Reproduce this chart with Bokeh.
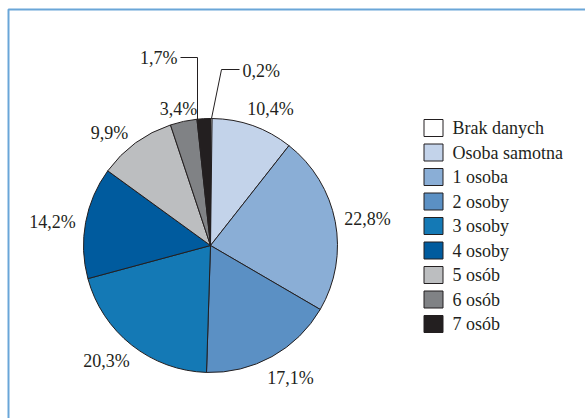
import math
from bokeh.plotting import figure
from bokeh.models import Range1d, ColumnDataSource
from bokeh.core.properties import value
from bokeh.embed import file_html
from bokeh.resources import INLINE

# ---- data ----
categories = ["Brak danych", "Osoba samotna", "1 osoba", "2 osoby", "3 osoby",
              "4 osoby", "5 osób", "6 osób", "7 osób"]
shares = [0.2, 10.4, 22.8, 17.1, 20.3, 14.2, 9.9, 3.4, 1.7]
colors = ["#ffffff", "#c3d3ea", "#8aaed6", "#5b90c4", "#1479b5",
          "#005b9e", "#bcbec0", "#808285", "#231f20"]

# ---- layout (screen pixels, y measured from top) ----
W, H = 585, 418
CX, CY, R = 210, 245, 127
FONT = value("serif")
FS = "18px"

def sy(y):
    return H - y

p = figure(width=W, height=H, output_backend="svg", toolbar_location=None,
           x_range=Range1d(0, W), y_range=Range1d(0, H), min_border=0)
p.axis.visible = False
p.grid.visible = False
p.outline_line_color = None
p.background_fill_color = "white"
p.border_fill_color = "white"

# frame
p.line(x=[8, 8, W + 5], y=[-5, sy(9), sy(9)], line_color="#6aa6d8", line_width=2)

# wedges (clockwise from 12 o'clock)
total = sum(shares)
starts, ends, cum = [], [], 0.0
for v in shares:
    a0 = math.pi / 2 - 2 * math.pi * cum / total
    cum += v
    a1 = math.pi / 2 - 2 * math.pi * cum / total
    starts.append(a1)
    ends.append(a0)
src = ColumnDataSource(dict(start=starts, end=ends, color=colors, cat=categories))
p.wedge(x=CX, y=sy(CY), radius=R, start_angle="start", end_angle="end",
        fill_color="color", line_color="#231f20", line_width=1, source=src)

# percentage labels
labels = [f"{v:.1f}".replace(".", ",") + "%" for v in shares]
label_pos = [(242, 70, "left"), (270, 108.5, "center"), (367, 218, "center"),
             (290, 377, "center"), (106, 360, "center"), (52, 221, "center"),
             (109, 132, "center"), (178, 108.5, "center"), (177, 57, "right")]
for txt, (lx, ly, al) in zip(labels, label_pos):
    p.text(x=[lx], y=[sy(ly)], text=[txt], text_font=FONT, text_font_size=FS,
           text_align=al, text_baseline="middle", text_color="#231f20")

# leader lines for the small slices
p.line(x=[180, 197, 197], y=[sy(57), sy(57), sy(119)], line_color="#231f20", line_width=1)
p.line(x=[211, 221, 239], y=[sy(118), sy(69), sy(69)], line_color="#231f20", line_width=1)

# legend
lx0, ly0, step = 433, 127.5, 24.5
lys = [sy(ly0 + step * i) for i in range(len(categories))]
p.rect(x=[lx0] * len(categories), y=lys, width=19, height=17,
       fill_color=colors, line_color="#231f20", line_width=1)
p.text(x=[452] * len(categories), y=lys, text=categories, text_font=FONT,
       text_font_size=FS, text_align="left", text_baseline="middle",
       text_color="#231f20")

open("out.html", "w").write(file_html(p, INLINE))
